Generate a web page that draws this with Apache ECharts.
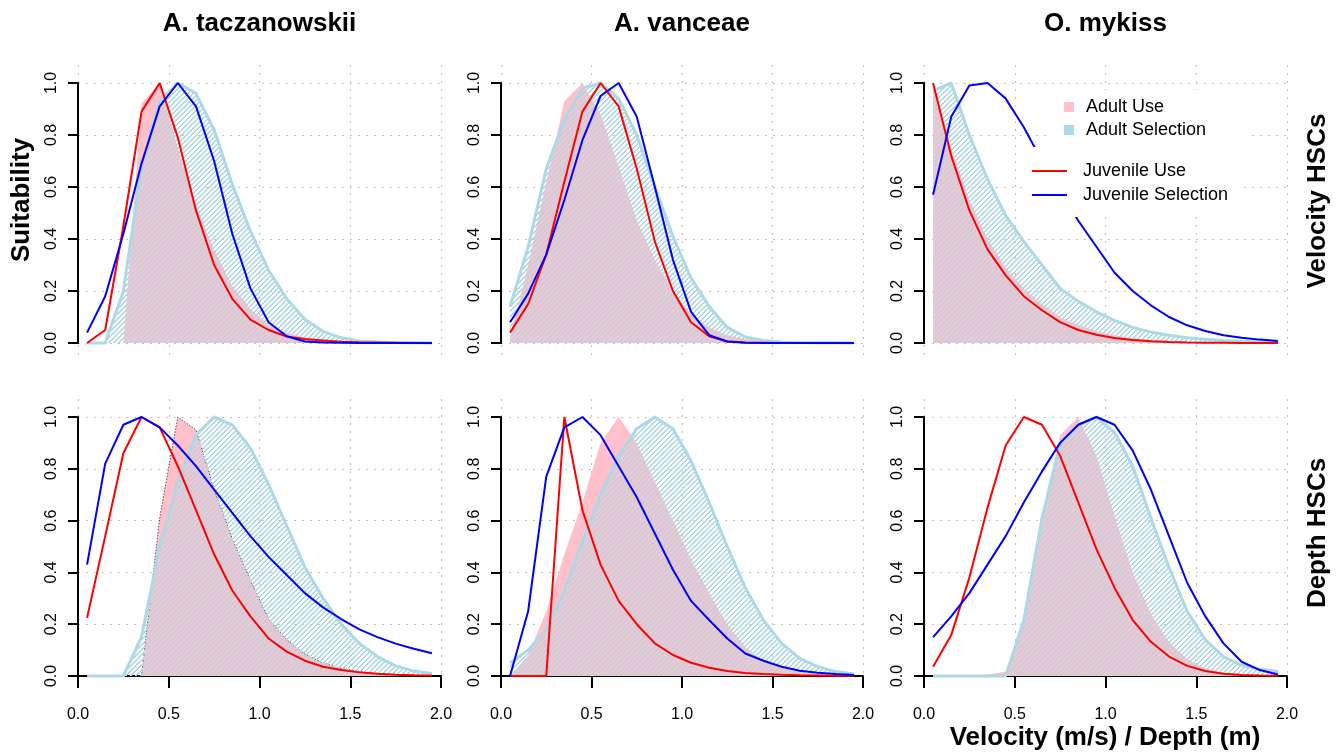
<!DOCTYPE html>
<html>
<head>
<meta charset="utf-8">
<title>HSC curves</title>
<style>
  * { margin: 0; padding: 0; }
  #main { width: 1340px; height: 754px; background: #fff; }
</style>
<script src="https://cdn.jsdelivr.net/npm/echarts@6/dist/echarts.min.js"></script>
</head>
<body>
<div id="main"></div>
<script>
// bin midpoints (velocity m/s or depth m)
var xs = [0.05, 0.15, 0.25, 0.35, 0.45, 0.55, 0.65, 0.75, 0.85, 0.95,
          1.05, 1.15, 1.25, 1.35, 1.45, 1.55, 1.65, 1.75, 1.85, 1.95];

var speciesNames = ['A. taczanowskii', 'A. vanceae', 'O. mykiss'];
var rowNames = ['Velocity HSCs', 'Depth HSCs'];

// velocity
var taczVelAdultUse = [0, 0, 0, 0.92, 1.0, 0.75, 0.53, 0.36, 0.22, 0.13, 0.07, 0.04, 0.02, 0.01, 0.005, 0.003, 0.001, 0, 0, 0];
var taczVelAdultSel = [0, 0, 0.2, 0.68, 0.93, 1.0, 0.96, 0.82, 0.61, 0.43, 0.28, 0.17, 0.09, 0.045, 0.02, 0.008, 0.004, 0.002, 0.001, 0];
var taczVelJuvUse = [0, 0.05, 0.45, 0.89, 1.0, 0.79, 0.51, 0.30, 0.17, 0.09, 0.05, 0.025, 0.015, 0.01, 0.005, 0.003, 0.002, 0.001, 0, 0];
var taczVelJuvSel = [0.04, 0.18, 0.42, 0.69, 0.91, 1.0, 0.91, 0.70, 0.42, 0.21, 0.08, 0.026, 0.006, 0.002, 0.001, 0, 0, 0, 0, 0];

var vanVelAdultUse = [0.02, 0.3, 0.62, 0.93, 1.0, 0.88, 0.68, 0.47, 0.32, 0.2, 0.11, 0.06, 0.03, 0.015, 0.007, 0.003, 0.001, 0, 0, 0];
var vanVelAdultSel = [0.14, 0.37, 0.67, 0.86, 0.98, 1.0, 0.94, 0.80, 0.60, 0.41, 0.25, 0.14, 0.06, 0.023, 0.01, 0.004, 0.002, 0.001, 0.001, 0];
var vanVelJuvUse = [0.04, 0.15, 0.34, 0.62, 0.89, 1.0, 0.91, 0.67, 0.39, 0.20, 0.08, 0.026, 0.006, 0.002, 0.001, 0, 0, 0, 0, 0];
var vanVelJuvSel = [0.08, 0.19, 0.34, 0.55, 0.78, 0.95, 1.0, 0.87, 0.60, 0.32, 0.12, 0.03, 0.006, 0.001, 0, 0, 0, 0, 0, 0];

var mykVelAdultUse = [1.0, 0.75, 0.55, 0.40, 0.29, 0.21, 0.15, 0.10, 0.07, 0.045, 0.03, 0.02, 0.012, 0.008, 0.005, 0.003, 0.002, 0.001, 0.001, 0];
var mykVelAdultSel = [0.97, 1.0, 0.80, 0.63, 0.49, 0.39, 0.30, 0.21, 0.16, 0.12, 0.087, 0.06, 0.042, 0.03, 0.02, 0.014, 0.01, 0.007, 0.005, 0.004];
var mykVelJuvUse = [1.0, 0.72, 0.51, 0.36, 0.26, 0.18, 0.126, 0.08, 0.05, 0.032, 0.019, 0.012, 0.007, 0.004, 0.002, 0.001, 0.001, 0, 0, 0];
var mykVelJuvSel = [0.57, 0.87, 0.99, 1.0, 0.94, 0.83, 0.70, 0.59, 0.47, 0.37, 0.27, 0.20, 0.145, 0.10, 0.068, 0.046, 0.03, 0.02, 0.013, 0.008];

// depth
var taczDepAdultUse = [0, 0, 0, 0, 0.61, 1.0, 0.95, 0.72, 0.53, 0.37, 0.22, 0.14, 0.085, 0.05, 0.03, 0.018, 0.01, 0.006, 0.003, 0.002];
var taczDepAdultSel = [0, 0, 0, 0.15, 0.5, 0.75, 0.93, 1.0, 0.97, 0.88, 0.74, 0.58, 0.42, 0.30, 0.20, 0.126, 0.075, 0.039, 0.019, 0.01];
var taczDepJuvUse = [0.225, 0.54, 0.86, 1.0, 0.96, 0.81, 0.64, 0.47, 0.33, 0.23, 0.145, 0.094, 0.059, 0.036, 0.023, 0.014, 0.009, 0.005, 0.003, 0.002];
var taczDepJuvSel = [0.43, 0.82, 0.97, 1.0, 0.96, 0.89, 0.81, 0.72, 0.63, 0.54, 0.46, 0.39, 0.32, 0.265, 0.22, 0.18, 0.15, 0.125, 0.105, 0.088];

var vanDepAdultUse = [0, 0.08, 0.25, 0.47, 0.67, 0.9, 1.0, 0.9, 0.75, 0.6, 0.45, 0.32, 0.2, 0.11, 0.06, 0.03, 0.015, 0.007, 0.003, 0.001];
var vanDepAdultSel = [0.05, 0.1, 0.18, 0.33, 0.52, 0.70, 0.85, 0.955, 1.0, 0.955, 0.83, 0.67, 0.50, 0.34, 0.216, 0.126, 0.068, 0.036, 0.017, 0.008];
var vanDepJuvUse = [0, 0, 0, 1.0, 0.64, 0.43, 0.29, 0.20, 0.126, 0.081, 0.051, 0.032, 0.019, 0.012, 0.008, 0.005, 0.003, 0.002, 0.001, 0.001];
var vanDepJuvSel = [0, 0.25, 0.77, 0.96, 1.0, 0.93, 0.81, 0.69, 0.55, 0.41, 0.29, 0.216, 0.145, 0.087, 0.059, 0.036, 0.02, 0.013, 0.008, 0.004];

var mykDepAdultUse = [0, 0, 0, 0.005, 0.017, 0.2, 0.59, 0.93, 1.0, 0.85, 0.62, 0.4, 0.24, 0.13, 0.065, 0.03, 0.013, 0.006, 0.003, 0.001];
var mykDepAdultSel = [0, 0, 0, 0, 0, 0.216, 0.61, 0.90, 0.97, 1.0, 0.94, 0.81, 0.61, 0.42, 0.25, 0.14, 0.075, 0.042, 0.026, 0.017];
var mykDepJuvUse = [0.036, 0.158, 0.38, 0.65, 0.89, 1.0, 0.97, 0.85, 0.67, 0.49, 0.34, 0.216, 0.132, 0.075, 0.039, 0.019, 0.009, 0.004, 0.002, 0.001];
var mykDepJuvSel = [0.15, 0.23, 0.32, 0.43, 0.54, 0.67, 0.79, 0.90, 0.97, 1.0, 0.97, 0.87, 0.72, 0.54, 0.36, 0.23, 0.126, 0.055, 0.023, 0.006];

// panel order: row by row
var panels = [
  [taczVelAdultUse, taczVelAdultSel, taczVelJuvUse, taczVelJuvSel],
  [vanVelAdultUse, vanVelAdultSel, vanVelJuvUse, vanVelJuvSel],
  [mykVelAdultUse, mykVelAdultSel, mykVelJuvUse, mykVelJuvSel],
  [taczDepAdultUse, taczDepAdultSel, taczDepJuvUse, taczDepJuvSel],
  [vanDepAdultUse, vanDepAdultSel, vanDepJuvUse, vanDepJuvSel],
  [mykDepAdultUse, mykDepAdultSel, mykDepJuvUse, mykDepJuvSel]
];

var FONT = '"Liberation Sans", Arial, Helvetica, sans-serif';
var colLeft = [78, 501, 924];
var colWidth = [363, 362, 363];
var rowTop = [83, 417];
var rowHeight = [260, 259];

function pairs(ys) {
  return xs.map(function (x, i) { return [x, ys[i]]; });
}

// crisp diagonal hatching (R density= fill), drawn pixel by pixel
function hatchCanvas() {
  var n = 20, c = document.createElement('canvas');
  c.width = n; c.height = n;
  var g = c.getContext('2d');
  g.fillStyle = '#ADD8E6';
  for (var y = 0; y < n; y++) {
    for (var x = 0; x < n; x++) {
      if ((x + y) % 5 < 2) g.fillRect(x, y, 1, 1);
    }
  }
  return c;
}
var hatch = hatchCanvas();

var dotted = { color: '#c4c4c4', width: 1.2, type: [2, 6] };

var grids = [], xAxes = [], yAxes = [], series = [];
panels.forEach(function (p, i) {
  var row = Math.floor(i / 3), col = i % 3;
  var bottom = row === 1;
  grids.push({ left: colLeft[col], top: rowTop[row], width: colWidth[col], height: rowHeight[row] });
  xAxes.push({
    gridIndex: i, type: 'value', min: 0, max: 2, interval: 0.5,
    offset: 12,
    splitLine: { show: false },
    axisLine: { show: bottom, lineStyle: { color: '#000', width: 2 } },
    axisTick: { show: bottom, length: 12, lineStyle: { color: '#000', width: 2 } },
    axisLabel: { show: bottom, margin: 19, color: '#000', fontSize: 16, fontFamily: FONT,
      formatter: function (v) { return v.toFixed(1); } }
  });
  yAxes.push({
    gridIndex: i, type: 'value', min: 0, max: 1, interval: 0.2,
    offset: 6,
    splitLine: { show: true, lineStyle: dotted },
    axisLine: { show: true, lineStyle: { color: '#000', width: 2 } },
    axisTick: { show: true, length: 10, lineStyle: { color: '#000', width: 2 } },
    axisLabel: { rotate: 90, margin: 12, color: '#000', fontSize: 16, fontFamily: FONT,
      formatter: function (v) { return v.toFixed(1); } }
  });

  series.push({
    name: 'Adult Use', type: 'line', xAxisIndex: i, yAxisIndex: i, z: 2,
    data: pairs(p[0]), symbol: 'none', clip: false, color: 'pink',
    lineStyle: i === 3 ? { color: '#555', width: 1, type: [1.5, 1.5] } : { opacity: 0 },
    areaStyle: { color: '#FFC0CB', opacity: 1 }
  });
  series.push({
    name: 'Adult Selection', type: 'line', xAxisIndex: i, yAxisIndex: i, z: 3,
    data: pairs(p[1]), symbol: 'none', clip: false, color: '#ADD8E6',
    lineStyle: { color: '#ADD8E6', width: 3 },
    areaStyle: { color: { image: hatch, repeat: 'repeat' }, opacity: 1 }
  });
  series.push({
    name: 'Juvenile Use', type: 'line', xAxisIndex: i, yAxisIndex: i, z: 4,
    data: pairs(p[2]), symbol: 'none', clip: false, color: '#FF0000',
    lineStyle: { color: '#FF0000', width: 2 }
  });
  series.push({
    name: 'Juvenile Selection', type: 'line', xAxisIndex: i, yAxisIndex: i, z: 5,
    data: pairs(p[3]), symbol: 'none', clip: false, color: '#0000FF',
    lineStyle: { color: '#0000FF', width: 2 }
  });
});

// vertical dotted grid lines reach a little past the 0..1 range, as in R's plot region
panels.forEach(function (p, i) {
  var row = Math.floor(i / 3), col = i % 3;
  var g = grids.length;
  grids.push({ left: colLeft[col], top: rowTop[row] - 18, width: colWidth[col], height: rowHeight[row] + 30 });
  xAxes.push({
    gridIndex: g, type: 'value', min: 0, max: 2, interval: 0.5,
    axisLine: { show: false }, axisTick: { show: false }, axisLabel: { show: false },
    splitLine: { show: true, lineStyle: dotted }
  });
  yAxes.push({ gridIndex: g, type: 'value', min: 0, max: 1, show: false });
});

var texts = [];
speciesNames.forEach(function (s, c) {
  texts.push({ type: 'text', x: colLeft[c] + colWidth[c] / 2, y: 24,
    style: { text: s, fill: '#000', font: 'bold 26px ' + FONT, textAlign: 'center', textVerticalAlign: 'middle' } });
});
texts.push({ type: 'text', x: 1318, y: 201, rotation: Math.PI / 2,
  style: { text: rowNames[0], fill: '#000', font: 'bold 26px ' + FONT, textAlign: 'center', textVerticalAlign: 'middle' } });
texts.push({ type: 'text', x: 1318, y: 533, rotation: Math.PI / 2,
  style: { text: rowNames[1], fill: '#000', font: 'bold 26px ' + FONT, textAlign: 'center', textVerticalAlign: 'middle' } });
texts.push({ type: 'text', x: 22, y: 200, rotation: Math.PI / 2,
  style: { text: 'Suitability', fill: '#000', font: 'bold 26px ' + FONT, textAlign: 'center', textVerticalAlign: 'middle' } });
texts.push({ type: 'text', x: 1105, y: 738,
  style: { text: 'Velocity (m/s) / Depth (m)', fill: '#000', font: 'bold 26px ' + FONT, textAlign: 'center', textVerticalAlign: 'middle' } });

var option = {
  backgroundColor: '#fff',
  animation: false,
  grid: grids,
  xAxis: xAxes,
  yAxis: yAxes,
  legend: [{
    orient: 'vertical', left: 1052, top: 90, z: 10,
    padding: [8, 40, 8, 12], itemGap: 5, itemWidth: 10, itemHeight: 10,
    backgroundColor: '#fff', selectedMode: false,
    textStyle: { fontSize: 18, color: '#000', fontFamily: FONT, padding: [0, 0, 0, 7] },
    data: [
      { name: 'Adult Use', icon: 'rect', itemStyle: { color: '#FFC0CB', borderWidth: 0 } },
      { name: 'Adult Selection', icon: 'rect', itemStyle: { color: '#ADD8E6', borderWidth: 0 } }
    ]
  }, {
    orient: 'vertical', left: 1022, top: 147, z: 10,
    padding: [15, 12, 13, 10], itemGap: 6, itemWidth: 35, itemHeight: 2,
    backgroundColor: '#fff', selectedMode: false,
    textStyle: { fontSize: 18, color: '#000', fontFamily: FONT, padding: [0, 0, 0, 11] },
    data: [
      { name: 'Juvenile Use', icon: 'rect', itemStyle: { color: '#FF0000', borderWidth: 0 } },
      { name: 'Juvenile Selection', icon: 'rect', itemStyle: { color: '#0000FF', borderWidth: 0 } }
    ]
  }],
  graphic: texts,
  series: series
};

var chart = echarts.init(document.getElementById('main'));
chart.setOption(option);
</script>
</body>
</html>
